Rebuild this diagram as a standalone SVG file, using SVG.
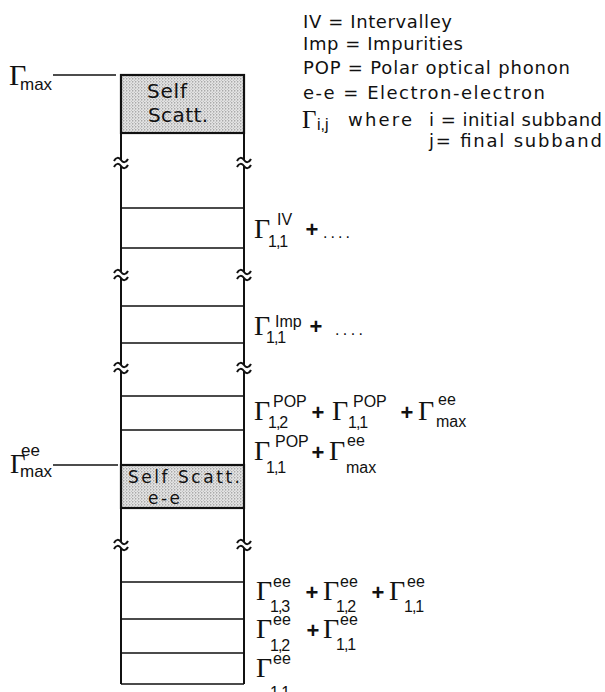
<svg xmlns="http://www.w3.org/2000/svg" width="605" height="692" viewBox="0 0 605 692">
<style>
  .t { font-family: "DejaVu Sans", "Liberation Sans", Arial, sans-serif; fill: #111; }
  .leg { font-size: 18px; }
  .ss { font-family: "Liberation Sans", Arial, sans-serif; font-size: 16px; fill: #111; }
  .d { letter-spacing: -1px; }
  .g { font-family: "Liberation Serif", "Times New Roman", serif; font-size: 28px; fill: #111; }
  .pl { font-family: "Liberation Sans", Arial, sans-serif; font-size: 22px; font-weight: bold; fill: #111; text-anchor: middle; }
  .col { stroke: #111; stroke-width: 2; fill: none; }
  .row { stroke: #111; stroke-width: 1.6; fill: none; }
  .lead { stroke: #111; stroke-width: 1.4; fill: none; }
</style>
<defs>
  <pattern id="stipple" width="3" height="3" patternUnits="userSpaceOnUse">
    <rect width="3" height="3" fill="#e4e4e4"/>
    <circle cx="0.8" cy="0.8" r="0.6" fill="#6a6a6a"/>
    <circle cx="2.3" cy="2.3" r="0.45" fill="#8a8a8a"/>
  </pattern>
  <path id="tilde" d="M -7 1 C -5 -3 -2 -3 0 0 S 5 3 7 -1"/>
</defs>

<g id="legend">
  <text class="t leg" x="303" y="28" textLength="149">IV = Intervalley</text>
  <text class="t leg" x="303" y="50" textLength="160">Imp = Impurities</text>
  <text class="t leg" x="303" y="74" textLength="267">POP = Polar optical phonon</text>
  <text class="t leg" x="303" y="99" textLength="242">e-e = Electron-electron</text>
  <text class="g" x="302" y="128" style="font-size:25px">Γ</text>
  <text class="ss" x="317" y="130">i,j</text>
  <text class="t leg" x="348" y="126" textLength="64">where</text>
  <text class="t leg" x="429" y="126" textLength="173">i = initial subband</text>
  <text class="t leg" x="429" y="147" textLength="173">j= final subband</text>
</g>

<g id="column">
  <path class="col" d="M121 75 V160 M121 166 V272 M121 278 V365 M121 371 V542 M121 548 V684"/>
  <path class="col" d="M244 75 V160 M244 166 V272 M244 278 V365 M244 371 V542 M244 548 V684"/>
  <g class="col" stroke-width="1.8">
    <use href="#tilde" x="121" y="160"/><use href="#tilde" x="121" y="166"/>
    <use href="#tilde" x="121" y="272"/><use href="#tilde" x="121" y="278"/>
    <use href="#tilde" x="121" y="365"/><use href="#tilde" x="121" y="371"/>
    <use href="#tilde" x="121" y="542"/><use href="#tilde" x="121" y="548"/>
    <use href="#tilde" x="244" y="160"/><use href="#tilde" x="244" y="166"/>
    <use href="#tilde" x="244" y="272"/><use href="#tilde" x="244" y="278"/>
    <use href="#tilde" x="244" y="365"/><use href="#tilde" x="244" y="371"/>
    <use href="#tilde" x="244" y="542"/><use href="#tilde" x="244" y="548"/>
  </g>
  <path class="row" d="M121 208 H244 M121 248 H244 M121 306 H244 M121 343 H244 M121 396 H244 M121 430 H244 M121 582 H244 M121 619 H244 M121 653 H244 M121 684 H244"/>
</g>

<g id="self-scatt">
  <rect x="121" y="75" width="123" height="58" fill="url(#stipple)" stroke="#111" stroke-width="2.2"/>
  <text class="t" x="147" y="98" style="font-size:20px" textLength="40">Self</text>
  <text class="t" x="148" y="122" style="font-size:20px" textLength="60">Scatt.</text>
</g>

<g id="self-scatt-ee">
  <rect x="121" y="465" width="123" height="43" fill="url(#stipple)" stroke="#111" stroke-width="2.2"/>
  <text class="t" x="128" y="483" style="font-size:17px" textLength="112">Self Scatt.</text>
  <text class="t" x="148" y="504" style="font-size:17px" textLength="32">e-e</text>
</g>

<g id="gamma-max">
  <text class="g" x="9" y="85" style="font-size:30px">Γ</text>
  <text class="ss" x="20" y="90" style="font-size:17px">max</text>
</g>

<g id="gamma-max-ee">
  <text class="g" x="10" y="473" style="font-size:27px">Γ</text>
  <text class="ss" x="21" y="456" style="font-size:17px">ee</text>
  <text class="ss" x="20" y="477" style="font-size:17px">max</text>
</g>

<g id="connectors">
  <path class="lead" d="M53 75 H116"/>
  <path class="lead" d="M53 465 H118"/>
</g>

<g id="label-iv">
  <text class="g" x="254" y="238">Γ</text>
  <text class="ss" x="277" y="225">IV</text>
  <text class="ss d" x="268" y="247">1,1</text>
  <text class="pl" x="312" y="237">+</text>
  <text class="ss" x="323" y="238" textLength="27">....</text>
</g>

<g id="label-imp">
  <text class="g" x="254" y="335">Γ</text>
  <text class="ss" x="275" y="327">Imp</text>
  <text class="ss d" x="266" y="343">1,1</text>
  <text class="pl" x="316" y="334">+</text>
  <text class="ss" x="335" y="335" textLength="28">....</text>
</g>

<g id="label-pop1">
  <text class="g" x="254" y="420">Γ</text>
  <text class="ss" x="273" y="407">POP</text>
  <text class="ss d" x="268" y="428">1,2</text>
  <text class="pl" x="318" y="420">+</text>
  <text class="g" x="332" y="420">Γ</text>
  <text class="ss" x="353" y="407">POP</text>
  <text class="ss d" x="348" y="428">1,1</text>
  <text class="pl" x="407" y="420">+</text>
  <text class="g" x="418" y="420">Γ</text>
  <text class="ss" x="438" y="405">ee</text>
  <text class="ss" x="436" y="427">max</text>
</g>

<g id="label-pop2">
  <text class="g" x="254" y="460">Γ</text>
  <text class="ss" x="275" y="447">POP</text>
  <text class="ss d" x="266" y="473">1,1</text>
  <text class="pl" x="318" y="460">+</text>
  <text class="g" x="329" y="460">Γ</text>
  <text class="ss" x="347" y="446">ee</text>
  <text class="ss" x="346" y="473">max</text>
</g>

<g id="label-ee3">
  <text class="g" x="256" y="600">Γ</text>
  <text class="ss" x="273" y="587">ee</text>
  <text class="ss d" x="270" y="612">1,3</text>
  <text class="pl" x="312" y="600">+</text>
  <text class="g" x="323" y="600">Γ</text>
  <text class="ss" x="340" y="587">ee</text>
  <text class="ss d" x="336" y="612">1,2</text>
  <text class="pl" x="378" y="600">+</text>
  <text class="g" x="389" y="600">Γ</text>
  <text class="ss" x="407" y="587">ee</text>
  <text class="ss d" x="404" y="612">1,1</text>
</g>

<g id="label-ee2">
  <text class="g" x="256" y="638">Γ</text>
  <text class="ss" x="273" y="625">ee</text>
  <text class="ss d" x="270" y="651">1,2</text>
  <text class="pl" x="313" y="638">+</text>
  <text class="g" x="323" y="638">Γ</text>
  <text class="ss" x="340" y="625">ee</text>
  <text class="ss d" x="336" y="650">1,1</text>
</g>

<g id="label-ee1">
  <text class="g" x="256" y="677">Γ</text>
  <text class="ss" x="273" y="664">ee</text>
  <text class="ss d" x="270" y="698">1,1</text>
</g>
</svg>
